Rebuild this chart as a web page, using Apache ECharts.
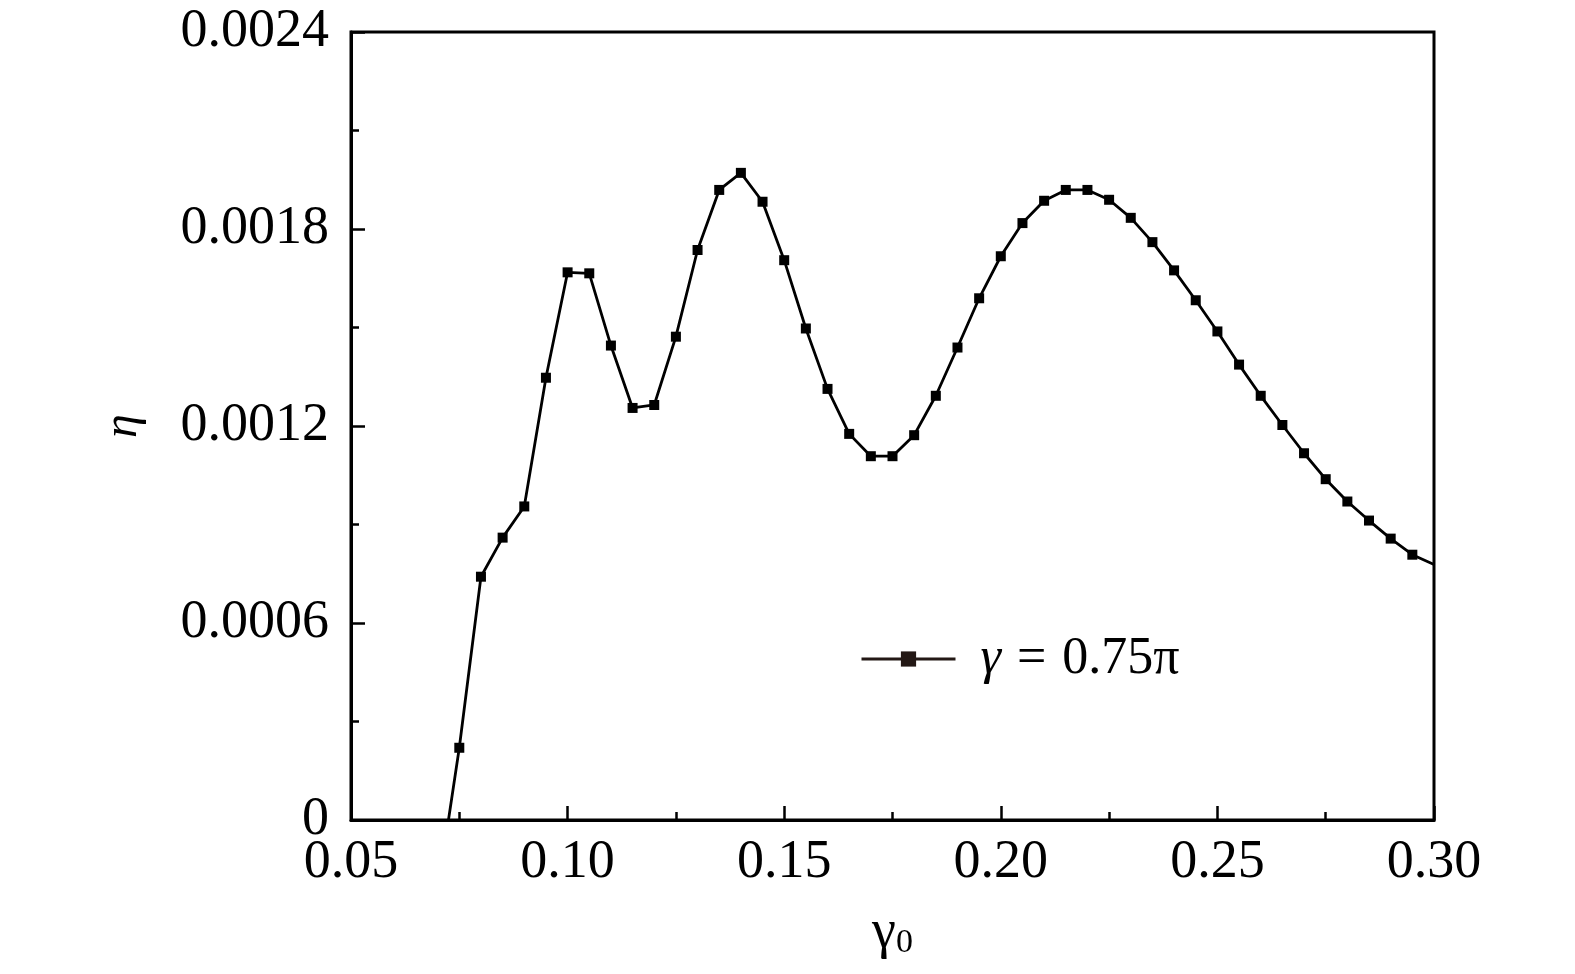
<!DOCTYPE html>
<html><head><meta charset="utf-8">
<script src="https://cdn.jsdelivr.net/npm/echarts@6/dist/echarts.min.js"></script>
<style>html,body{margin:0;padding:0;background:#fff}#c{width:1575px;height:974px}</style>
</head><body><div id="c"></div>
<script>
const gamma0 = [0.070, 0.075, 0.080, 0.085, 0.090, 0.095, 0.100, 0.105, 0.110, 0.115,
  0.120, 0.125, 0.130, 0.135, 0.140, 0.145, 0.150, 0.155, 0.160, 0.165,
  0.170, 0.175, 0.180, 0.185, 0.190, 0.195, 0.200, 0.205, 0.210, 0.215,
  0.220, 0.225, 0.230, 0.235, 0.240, 0.245, 0.250, 0.255, 0.260, 0.265,
  0.270, 0.275, 0.280, 0.285, 0.290, 0.295, 0.300];
const eta = [-0.000220, 0.000220, 0.000741, 0.000860, 0.000955, 0.001347, 0.001668, 0.001665, 0.001445, 0.001255,
  0.001264, 0.001472, 0.001736, 0.001919, 0.001971, 0.001883, 0.001705, 0.001497, 0.001313, 0.001176,
  0.001108, 0.001108, 0.001172, 0.001292, 0.001439, 0.001589, 0.001717, 0.001818, 0.001886, 0.001919,
  0.001919, 0.001889, 0.001834, 0.001760, 0.001674, 0.001583, 0.001488, 0.001387, 0.001292, 0.001203,
  0.001117, 0.001038, 0.000970, 0.000912, 0.000857, 0.000808, 0.000778];
const xTickLabels = ['0.05', '0.10', '0.15', '0.20', '0.25', '0.30'];
const yTickLabels = ['0', '0.0006', '0.0012', '0.0018', '0.0024'];
const seriesName = 'γ = 0.75π';

const FONT = 'Liberation Serif';
const data = gamma0.map((x, i) => {
  const item = { value: [x, eta[i]] };
  if (i === gamma0.length - 1) item.symbol = 'none';
  return item;
});

const chart = echarts.init(document.getElementById('c'), null, { renderer: 'canvas' });
chart.setOption({
  animation: false,
  backgroundColor: '#fff',
  grid: { left: 351, right: 141, top: 32, bottom: 154, show: true, borderColor: '#000', borderWidth: 3, backgroundColor: 'transparent' },
  legend: {
    left: 855, top: 628,
    itemWidth: 94, itemHeight: 19,
    data: [{ name: seriesName, itemStyle: { color: '#231815' }, lineStyle: { color: '#231815', width: 3 } }],
    formatter: () => '{g|γ}{e|=}{t|0.75π}',
    textStyle: {
      rich: {
        g: { fontFamily: FONT, fontStyle: 'italic', fontSize: 52, color: '#000', padding: [0, 0, 0, 20] },
        e: { fontFamily: FONT, fontSize: 52, color: '#000', padding: [0, 16, 0, 16] },
        t: { fontFamily: FONT, fontSize: 52, color: '#000' }
      }
    }
  },
  xAxis: {
    type: 'value', min: 0.05, max: 0.30, interval: 0.05,
    name: '{g|γ}{s|0}', nameLocation: 'middle', nameGap: 86,
    nameTextStyle: { rich: {
      g: { fontFamily: FONT, fontSize: 54, color: '#000' },
      s: { fontFamily: FONT, fontSize: 34, color: '#000', padding: [20, 0, 0, 0] }
    } },
    axisLine: { show: true, lineStyle: { color: '#000', width: 3 } },
    axisTick: { show: true, inside: true, length: 14, lineStyle: { color: '#000', width: 2.5 } },
    minorTick: { show: true, splitNumber: 2, length: 8, lineStyle: { color: '#000', width: 2.5 } },
    splitLine: { show: false },
    axisLabel: { fontFamily: FONT, fontSize: 54, color: '#000', margin: 16,
      formatter: v => xTickLabels[Math.round((v - 0.05) / 0.05)] }
  },
  yAxis: {
    type: 'value', min: 0, max: 0.0024, interval: 0.0006,
    name: 'η', nameLocation: 'middle', nameGap: 204,
    nameTextStyle: { fontFamily: FONT, fontStyle: 'italic', fontSize: 48, color: '#000' },
    axisLine: { show: true, lineStyle: { color: '#000', width: 3 } },
    axisTick: { show: true, inside: true, length: 14, lineStyle: { color: '#000', width: 2.5 } },
    minorTick: { show: true, splitNumber: 2, length: 8, lineStyle: { color: '#000', width: 2.5 } },
    splitLine: { show: false },
    axisLabel: { fontFamily: FONT, fontSize: 54, color: '#000', margin: 22,
      formatter: v => yTickLabels[Math.round(v / 0.0006)] }
  },
  series: [{
    name: seriesName, type: 'line', data: data, clip: true,
    symbol: 'rect', symbolSize: 10,
    lineStyle: { color: '#000', width: 2.8 },
    itemStyle: { color: '#000' }
  }]
});
</script></body></html>
